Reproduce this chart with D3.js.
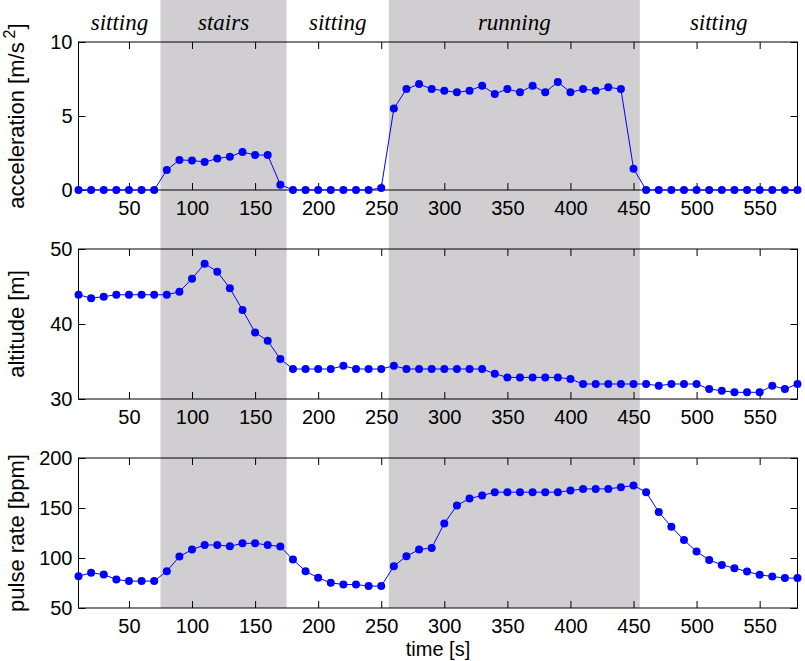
<!DOCTYPE html>
<html>
<head>
<meta charset="utf-8">
<script src="https://cdn.jsdelivr.net/npm/d3@7"></script>
<style>
  body { margin: 0; background: #fff; }
  text { font-family: "Liberation Sans", Arial, sans-serif; }
</style>
</head>
<body>
<div id="chart"></div>
<script>
const times = [10, 20, 30, 40, 50, 60, 70, 80, 90, 100, 110, 120, 130, 140, 150, 160, 170, 180, 190, 200,
  210, 220, 230, 240, 250, 260, 270, 280, 290, 300, 310, 320, 330, 340, 350, 360, 370, 380, 390, 400,
  410, 420, 430, 440, 450, 460, 470, 480, 490, 500, 510, 520, 530, 540, 550, 560, 570, 580]

const acceleration = [0, 0, 0, 0, 0, 0, 0, 1.35, 2.03, 2.0, 1.89, 2.12, 2.25, 2.57, 2.36, 2.36, 0.36, 0, 0, 0,
  0, 0, 0, 0, 0.14, 5.5, 6.82, 7.16, 6.82, 6.71, 6.6, 6.71, 7.05, 6.49, 6.82, 6.6, 7.05, 6.6, 7.3, 6.6,
  6.82, 6.71, 6.94, 6.82, 1.44, 0, 0, 0, 0, 0, 0, 0, 0, 0, 0, 0, 0, 0]

const altitude = [43.9, 43.45, 43.65, 43.9, 43.9, 43.9, 43.9, 43.9, 44.3, 46.05, 48.05, 46.98, 44.77, 41.88, 38.87, 37.76, 35.32, 34.0, 34.0, 34.0,
  34.0, 34.43, 34.0, 34.0, 34.0, 34.43, 34.0, 34.0, 34.0, 34.0, 34.0, 34.0, 34.0, 33.37, 32.88, 32.88, 32.88, 32.88, 32.88, 32.66,
  32.0, 32.0, 32.0, 32.0, 32.0, 32.0, 31.77, 32.0, 32.0, 32.0, 31.33, 31.1, 30.89, 30.89, 30.89, 31.77, 31.33, 32.0]

const pulse = [81.8, 85.2, 83.5, 78.5, 76.9, 76.9, 76.9, 86.8, 101.4, 108.4, 113.0, 113.0, 111.7, 114.7, 114.7, 113.0, 111.4, 98.4, 86.8, 80.2,
  75.2, 73.5, 73.5, 71.9, 71.9, 91.8, 101.8, 108.4, 110.1, 134.6, 152.5, 159.5, 162.5, 165.8, 165.8, 165.8, 165.8, 165.8, 165.8, 167.5,
  169.1, 169.1, 169.1, 170.8, 172.5, 165.8, 145.9, 131.3, 118.0, 106.4, 98.1, 93.1, 89.8, 86.5, 83.2, 81.5, 79.9, 79.9]

const activities = ['sitting', 'stairs', 'sitting', 'running', 'sitting']
const activityBounds = [10, 75, 175, 256, 455, 580]
const shaded = [1, 3]

const xTicks = [50, 100, 150, 200, 250, 300, 350, 400, 450, 500, 550]

const panels = [
  { values: acceleration, domain: [0, 10], ticks: [0, 5, 10], top: 42, bottom: 190, label: 'acceleration [m/s', sup: '2' },
  { values: altitude, domain: [30, 50], ticks: [30, 40, 50], top: 249, bottom: 399, label: 'altitude [m]' },
  { values: pulse, domain: [50, 200], ticks: [50, 100, 150, 200], top: 458, bottom: 608, label: 'pulse rate [bpm]' }
]

const W = 805, H = 661
const left = 78.5, right = 797.5

const svg = d3.select('#chart').append('svg')
  .attr('width', W)
  .attr('height', H)

const x = d3.scaleLinear().domain([10, 580]).range([left, right])

// shaded activity bands run across all three panels
shaded.forEach(i => {
  svg.append('rect')
    .attr('x', x(activityBounds[i]))
    .attr('y', 0)
    .attr('width', x(activityBounds[i + 1]) - x(activityBounds[i]))
    .attr('height', panels[2].bottom)
    .attr('fill', '#d1ced1')
})

activities.forEach((a, i) => {
  svg.append('text')
    .attr('x', (x(activityBounds[i]) + x(activityBounds[i + 1])) / 2)
    .attr('y', 30)
    .attr('text-anchor', 'middle')
    .style('font-family', '"Liberation Serif", "Times New Roman", serif')
    .style('font-style', 'italic')
    .style('font-size', '23px')
    .text(a)
})

panels.forEach(p => {
  const y = d3.scaleLinear().domain(p.domain).range([p.bottom, p.top])
  const g = svg.append('g')

  g.append('rect')
    .attr('x', left)
    .attr('y', p.top)
    .attr('width', right - left)
    .attr('height', p.bottom - p.top)
    .attr('fill', 'none')
    .attr('stroke', '#000')
    .attr('stroke-width', 1)

  const bottomAxis = g.append('g')
    .attr('transform', `translate(0,${p.bottom})`)
    .call(d3.axisBottom(x).tickValues(xTicks).tickSize(-7).tickPadding(11))
  const topAxis = g.append('g')
    .attr('transform', `translate(0,${p.top})`)
    .call(d3.axisTop(x).tickValues(xTicks).tickSize(-7).tickFormat(''))
  const leftAxis = g.append('g')
    .attr('transform', `translate(${left},0)`)
    .call(d3.axisLeft(y).tickValues(p.ticks).tickSize(-7).tickPadding(6))
  const rightAxis = g.append('g')
    .attr('transform', `translate(${right},0)`)
    .call(d3.axisRight(y).tickValues(p.ticks).tickSize(-7).tickFormat(''))

  ;[bottomAxis, topAxis, leftAxis, rightAxis].forEach(a => {
    a.select('.domain').remove()
    a.selectAll('text')
      .style('font-family', '"Liberation Sans", Arial, sans-serif')
      .style('font-size', '20px')
      .attr('fill', '#000')
  })

  const pts = times.map((t, i) => [t, p.values[i]])
  const line = d3.line().x(d => x(d[0])).y(d => y(d[1]))

  g.append('path')
    .datum(pts)
    .attr('d', line)
    .attr('fill', 'none')
    .attr('stroke', '#0000ff')
    .attr('stroke-width', 1)

  g.selectAll('circle')
    .data(pts)
    .enter()
    .append('circle')
    .attr('cx', d => x(d[0]))
    .attr('cy', d => y(d[1]))
    .attr('r', 4)
    .attr('fill', '#0000ff')

  const lab = svg.append('text')
    .attr('transform', `translate(24,${(p.top + p.bottom) / 2}) rotate(-90)`)
    .attr('text-anchor', 'middle')
    .style('font-size', '22px')
    .text(p.label)
  if (p.sup) {
    lab.append('tspan').attr('dx', 4).attr('dy', -9).style('font-size', '16px').text(p.sup)
    lab.append('tspan').attr('dy', 9).text(']')
  }
})

svg.append('text')
  .attr('x', (left + right) / 2)
  .attr('y', 656)
  .attr('text-anchor', 'middle')
  .style('font-size', '20px')
  .text('time [s]')
</script>
</body>
</html>
